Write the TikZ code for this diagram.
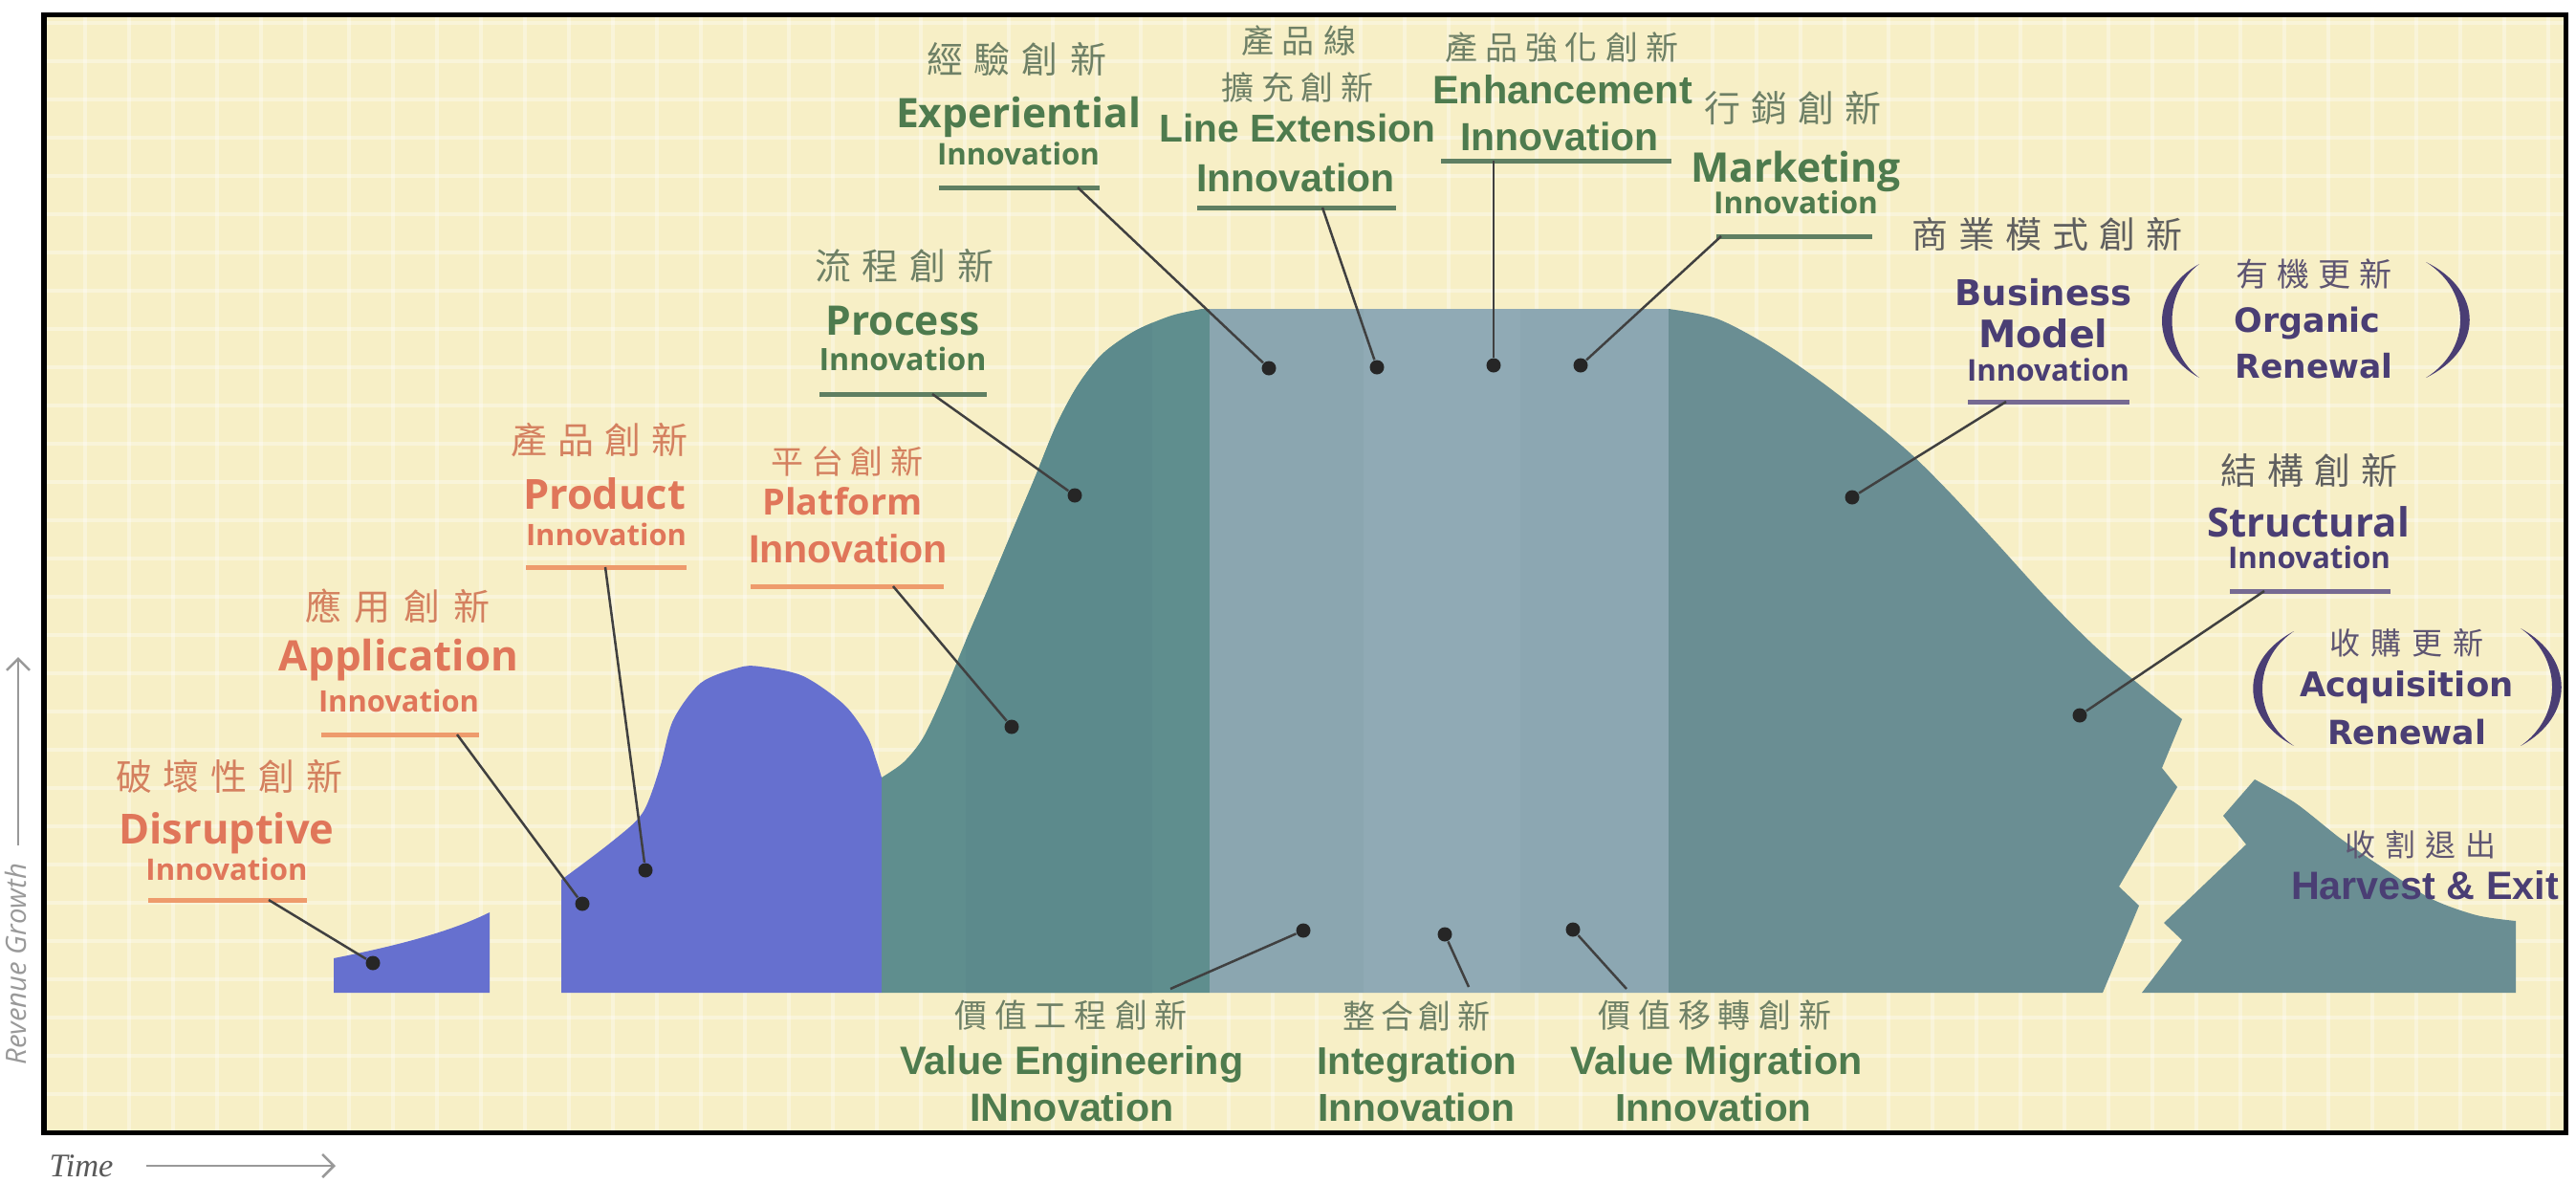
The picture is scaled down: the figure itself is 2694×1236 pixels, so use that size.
\documentclass[tikz,border=0pt]{standalone}
\usepackage{fontspec}
\usepackage{graphicx}
\usetikzlibrary{arrows.meta}
\newfontfamily\os{Open Sans}
\newfontfamily\lib{Liberation Sans}
\newfontfamily\dvs{DejaVu Sans}
\newfontfamily\ser{Liberation Serif}
\newfontfamily\cjk{Noto Sans CJK TC}
\newlength\pxu \setlength\pxu{0.01cm}
\makeatletter
\newcommand\cjsp[2]{\def\cjsp@f{}\@tfor\cjsp@c:=#2\do{\cjsp@f\cjsp@c\def\cjsp@f{\hspace{#1}}}}
\makeatother
\newcommand\cj[3]{{\cjk\fontsize{#1\pxu}{#1\pxu}\selectfont\cjsp{#2\pxu}{#3}}}
\newcommand\fw[2]{\resizebox{#1\pxu}{!}{#2}}
\definecolor{bgyel}{HTML}{F7EFC6}
\definecolor{blueS}{HTML}{6670CF}
\definecolor{tealA}{HTML}{5F8E8E}
\definecolor{tealA2}{HTML}{5C8A8C}
\definecolor{tealL1}{HTML}{8BA6B0}
\definecolor{tealL2}{HTML}{90AAB5}
\definecolor{tealL3}{HTML}{8CA7B2}
\definecolor{tealB}{HTML}{6A8E93}
\definecolor{orT}{HTML}{E0765A}
\definecolor{orC}{HTML}{D4805F}
\definecolor{orU}{HTML}{EE9B6C}
\definecolor{grT}{HTML}{4E7B4E}
\definecolor{grC}{HTML}{6E8066}
\definecolor{grU}{HTML}{5F7F62}
\definecolor{puT}{HTML}{4A3E74}
\definecolor{puC}{HTML}{5E5572}
\definecolor{puU}{HTML}{766A92}
\definecolor{gyC}{HTML}{5F5F5F}
\begin{document}
\begin{tikzpicture}[x=0.01cm, y=-0.01cm,
  dot/.style={circle, fill=black!85, inner sep=0pt, minimum size=0.15cm},
  leader/.style={draw=black!75, line width=0.025cm},
  ulO/.style={draw=orU, line width=0.05cm},
  ulG/.style={draw=grU, line width=0.05cm},
  ulP/.style={draw=puU, line width=0.05cm},
  txt/.style={inner sep=0pt, anchor=base},
  cjt/.style={inner sep=0pt, anchor=center},
  axis/.style={draw=black!40, line width=0.025cm, -{Straight Barb[length=0.12cm]}}]
\useasboundingbox (0,0) rectangle (2694,1236);
\fill[white] (0,0) rectangle (2694,1236);
% background and grid
\fill[bgyel] (46,15) rectangle (2683,1184);
\begin{scope}
\clip (46,15) rectangle (2683,1184);
\foreach \gx in {89,135,...,2680} \draw[white, opacity=0.35, line width=0.035cm] (\gx,15) -- (\gx,1184);
\foreach \gy in {24,64,...,1184} \draw[white, opacity=0.35, line width=0.035cm] (46,\gy) -- (2683,\gy);
\end{scope}
% shapes
\fill[blueS] (349,1038) -- (349,1002) .. controls (410,990) and (470,975) .. (512,954) -- (512,1038) -- cycle;
\fill[blueS] (587,1038) -- (587,920) -- plot[smooth] coordinates {(587,920) (640,880) (672,850) (690,803) (704,753) (733,714) (773,698) (795,697) (840,707) (883,737) (907,770) (917,797) (922,813)} -- (922,1038) -- cycle;
\begin{scope}
\clip (922,1038) -- (922,813) -- plot[smooth] coordinates {(922,813) (945,797) (965,772) (985,730) (1010,670) (1037,607) (1060,552) (1082,500) (1104,446) (1127,403) (1153,370) (1187,346) (1225,330) (1257,323)} -- (1745,323) -- plot[smooth] coordinates {(1745,323) (1795,333) (1847,360) (1903,398) (1960,442) (2000,476) (2040,516) (2090,570) (2140,625) (2190,675) (2235,714) (2282,752)} -- (2261,803) -- (2277,823) -- (2216,927) -- (2237,947) -- (2199,1038) -- cycle;
\fill[tealA] (900,300) rectangle (1265,1040);
\fill[tealA2] (1010,300) rectangle (1205,1040);
\fill[tealL1] (1265,300) rectangle (1426,1040);
\fill[tealL2] (1426,300) rectangle (1590,1040);
\fill[tealL3] (1590,300) rectangle (1745,1040);
\fill[tealB] (1745,300) rectangle (2300,1040);
\end{scope}
\fill[tealB] (2240,1038) -- (2282,983) -- (2263,965) -- (2349,883) -- (2325,853) -- (2358,815) -- plot[smooth] coordinates {(2358,815) (2401,840) (2448,877) (2496,910) (2543,940) (2590,957) (2631,963)} -- (2631,1038) -- cycle;
% dots
\node[dot] (dDis) at (390,1007) {};
\node[dot] (dApp) at (609,945) {};
\node[dot] (dPro) at (675,910) {};
\node[dot] (dPla) at (1058,760) {};
\node[dot] (dPrc) at (1124,518) {};
\node[dot] (dExp) at (1327,385) {};
\node[dot] (dLin) at (1440,384) {};
\node[dot] (dEnh) at (1562,382) {};
\node[dot] (dMar) at (1653,382) {};
\node[dot] (dBus) at (1937,520) {};
\node[dot] (dStr) at (2175,748) {};
\node[dot] (dVE) at (1363,973) {};
\node[dot] (dInt) at (1511,977) {};
\node[dot] (dVM) at (1645,972) {};
% ---- Disruptive
\node[cjt, text=orC] (cDis) at (240,812) {\cj{38}{12}{破壞性創新}};
\node[txt, text=orT] (tDis) at (237,882) {\fw{225}{\os\bfseries Disruptive}};
\node[txt, text=orT] (iDis) at (237,920) {\fw{169}{\os\bfseries Innovation}};
\coordinate (uDis1) at (155,941); \coordinate (uDis2) at (321,941); \coordinate (lDis) at (281,941);
\draw[ulO] (uDis1) -- (uDis2);
\draw[leader] (lDis) -- (dDis);
% ---- Application
\node[cjt, text=orC] (cApp) at (416,634) {\cj{38}{14}{應用創新}};
\node[txt, text=orT] (tApp) at (417,701) {\fw{250}{\os\bfseries Application}};
\node[txt, text=orT] (iApp) at (417,744) {\fw{168}{\os\bfseries Innovation}};
\coordinate (uApp1) at (336,768); \coordinate (uApp2) at (501,768); \coordinate (lApp) at (478,768);
\draw[ulO] (uApp1) -- (uApp2);
\draw[leader] (lApp) -- (dApp);
% ---- Product
\node[cjt, text=orC] (cPro) at (627,460) {\cj{38}{11}{產品創新}};
\node[txt, text=orT] (tPro) at (632,532) {\fw{170}{\os\bfseries Product}};
\node[txt, text=orT] (iPro) at (634,570) {\fw{168}{\os\bfseries Innovation}};
\coordinate (uPro1) at (550,593); \coordinate (uPro2) at (718,593); \coordinate (lPro) at (633,593);
\draw[ulO] (uPro1) -- (uPro2);
\draw[leader] (lPro) -- (dPro);
% ---- Platform
\node[cjt, text=orC] (cPla) at (886,482) {\cj{34}{8}{平台創新}};
\node[txt, text=orT] (tPla) at (881,538) {\fw{167}{\os\bfseries Platform}};
\node[txt, text=orT] (iPla) at (887,588) {\fw{208}{\lib\bfseries Innovation}};
\coordinate (uPla1) at (785,613); \coordinate (uPla2) at (987,613); \coordinate (lPla) at (934,613);
\draw[ulO] (uPla1) -- (uPla2);
\draw[leader] (lPla) -- (dPla);
% ---- Process
\node[cjt, text=grC] (cPrc) at (946,278) {\cj{38}{12}{流程創新}};
\node[txt, text=grT] (tPrc) at (944,350) {\fw{161}{\os\bfseries Process}};
\node[txt, text=grT] (iPrc) at (944,387) {\fw{175}{\os\bfseries Innovation}};
\coordinate (uPrc1) at (857,412); \coordinate (uPrc2) at (1032,412); \coordinate (lPrc) at (975,412);
\draw[ulG] (uPrc1) -- (uPrc2);
\draw[leader] (lPrc) -- (dPrc);
% ---- Experiential
\node[cjt, text=grC] (cExp) at (1063,62) {\cj{38}{12}{經驗創新}};
\node[txt, text=grT] (tExp) at (1065,133) {\fw{256}{\os\bfseries Experiential}};
\node[txt, text=grT] (iExp) at (1065,172) {\fw{170}{\os\bfseries Innovation}};
\coordinate (uExp1) at (982,196); \coordinate (uExp2) at (1150,196); \coordinate (lExp) at (1127,196);
\draw[ulG] (uExp1) -- (uExp2);
\draw[leader] (lExp) -- (dExp);
% ---- Line Extension
\node[cjt, text=grC] (cLin1) at (1358,43) {\cj{34}{9}{產品線}};
\node[cjt, text=grC] (cLin2) at (1357,92) {\cj{34}{8}{擴充創新}};
\node[txt, text=grT] (tLin) at (1357,148) {\fw{289}{\lib\bfseries Line Extension}};
\node[txt, text=grT] (iLin) at (1355,200) {\fw{207}{\lib\bfseries Innovation}};
\coordinate (uLin1) at (1252,217); \coordinate (uLin2) at (1460,217); \coordinate (lLin) at (1383,217);
\draw[ulG] (uLin1) -- (uLin2);
\draw[leader] (lLin) -- (dLin);
% ---- Enhancement
\node[cjt, text=grC] (cEnh) at (1633,50) {\cj{34}{8}{產品強化創新}};
\node[txt, text=grT] (tEnh) at (1634,108) {\fw{272}{\lib\bfseries Enhancement}};
\node[txt, text=grT] (iEnh) at (1631,157) {\fw{207}{\lib\bfseries Innovation}};
\coordinate (uEnh1) at (1507,168); \coordinate (uEnh2) at (1748,168); \coordinate (lEnh) at (1562,168);
\draw[ulG] (uEnh1) -- (uEnh2);
\draw[leader] (lEnh) -- (dEnh);
% ---- Marketing
\node[cjt, text=grC] (cMar) at (1875,113) {\cj{38}{11}{行銷創新}};
\node[txt, text=grT] (tMar) at (1878,190) {\fw{220}{\os\bfseries Marketing}};
\node[txt, text=grT] (iMar) at (1878,223) {\fw{172}{\os\bfseries Innovation}};
\coordinate (uMar1) at (1795,247); \coordinate (uMar2) at (1958,247); \coordinate (lMar) at (1800,247);
\draw[ulG] (uMar1) -- (uMar2);
\draw[leader] (lMar) -- (dMar);
% ---- Business Model
\node[cjt, text=gyC] (cBus) at (2141,245) {\cj{38}{11}{商業模式創新}};
\node[txt, text=puT] (tBus1) at (2137,319) {\fw{185}{\dvs\bfseries Business}};
\node[txt, text=puT] (tBus2) at (2137,363) {\fw{135}{\dvs\bfseries Model}};
\node[txt, text=puT] (iBus) at (2142,398) {\fw{170}{\os\bfseries Innovation}};
\coordinate (uBus1) at (2058,420); \coordinate (uBus2) at (2227,420); \coordinate (lBus) at (2098,420);
\draw[ulP] (uBus1) -- (uBus2);
\draw[leader] (lBus) -- (dBus);
% ---- Organic Renewal
\node[cjt, text=puC] (cOrg) at (2420,287) {\cj{34}{9}{有機更新}};
\node[txt, text=puT] (tOrg1) at (2413,347) {\fw{153}{\dvs\bfseries Organic}};
\node[txt, text=puT] (tOrg2) at (2420,395) {\fw{165}{\dvs\bfseries Renewal}};
\fill[puT] (2300,276) .. controls (2248,305) and (2248,366) .. (2300,395) .. controls (2262,366) and (2262,305) .. (2300,276) -- cycle;
\fill[puT] (2537,274) .. controls (2598,304) and (2598,365) .. (2537,395) .. controls (2585,365) and (2585,304) .. (2537,274) -- cycle;
% ---- Structural
\node[cjt, text=gyC] (cStr) at (2415,492) {\cj{38}{11}{結構創新}};
\node[txt, text=puT] (tStr) at (2414,561) {\fw{212}{\os\bfseries Structural}};
\node[txt, text=puT] (iStr) at (2415,594) {\fw{170}{\os\bfseries Innovation}};
\coordinate (uStr1) at (2332,618); \coordinate (uStr2) at (2500,618); \coordinate (lStr) at (2368,618);
\draw[ulP] (uStr1) -- (uStr2);
\draw[leader] (lStr) -- (dStr);
% ---- Acquisition Renewal
\node[cjt, text=puC] (cAcq) at (2517,672) {\cj{32}{11}{收購更新}};
\node[txt, text=puT] (tAcq1) at (2517,728) {\fw{223}{\dvs\bfseries Acquisition}};
\node[txt, text=puT] (tAcq2) at (2517,778) {\fw{166}{\dvs\bfseries Renewal}};
\fill[puT] (2399,660) .. controls (2342,690) and (2342,750) .. (2399,780) .. controls (2355,750) and (2355,690) .. (2399,660) -- cycle;
\fill[puT] (2636,657) .. controls (2693,688) and (2693,749) .. (2636,780) .. controls (2680,749) and (2680,688) .. (2636,657) -- cycle;
% ---- Harvest & Exit
\node[cjt, text=puC] (cHar) at (2531,883) {\cj{32}{10}{收割退出}};
\node[txt, text=puT] (tHar) at (2536,940) {\fw{280}{\lib\bfseries Harvest \& Exit}};
% ---- Value Engineering
\node[cjt, text=grC] (cVE) at (1120,1062) {\cj{34}{8}{價值工程創新}};
\node[txt, text=grT] (tVE) at (1121,1123) {\fw{359}{\lib\bfseries Value Engineering}};
\node[txt, text=grT] (iVE) at (1121,1172) {\fw{213}{\lib\bfseries INnovation}};
\coordinate (lVE) at (1224,1034);
\draw[leader] (lVE) -- (dVE);
% ---- Integration
\node[cjt, text=grC] (cInt) at (1481,1062) {\cj{34}{6}{整合創新}};
\node[txt, text=grT] (tInt) at (1482,1123) {\fw{209}{\lib\bfseries Integration}};
\node[txt, text=grT] (iInt) at (1481,1172) {\fw{206}{\lib\bfseries Innovation}};
\coordinate (lInt) at (1536,1032);
\draw[leader] (lInt) -- (dInt);
% ---- Value Migration
\node[cjt, text=grC] (cVM) at (1793,1062) {\cj{34}{8}{價值移轉創新}};
\node[txt, text=grT] (tVM) at (1795,1123) {\fw{305}{\lib\bfseries Value Migration}};
\node[txt, text=grT] (iVM) at (1792,1172) {\fw{205}{\lib\bfseries Innovation}};
\coordinate (lVM) at (1701,1034);
\draw[leader] (lVM) -- (dVM);
% frame
\draw[black, line width=0.05cm] (46,15) rectangle (2683,1184);
% axes labels
\node[rotate=90, inner sep=0pt, text=black!40] (rev) at (17,1008) {\fw{211}{\os\itshape Revenue Growth}};
\coordinate (ra1) at (19,884); \coordinate (ra2) at (19,687);
\draw[axis] (ra1) -- (ra2);
\node[txt, text=black!65] (time) at (85,1230) {\fw{67}{\ser\itshape Time}};
\coordinate (ta1) at (153,1219); \coordinate (ta2) at (351,1219);
\draw[axis] (ta1) -- (ta2);
\end{tikzpicture}
\end{document}
